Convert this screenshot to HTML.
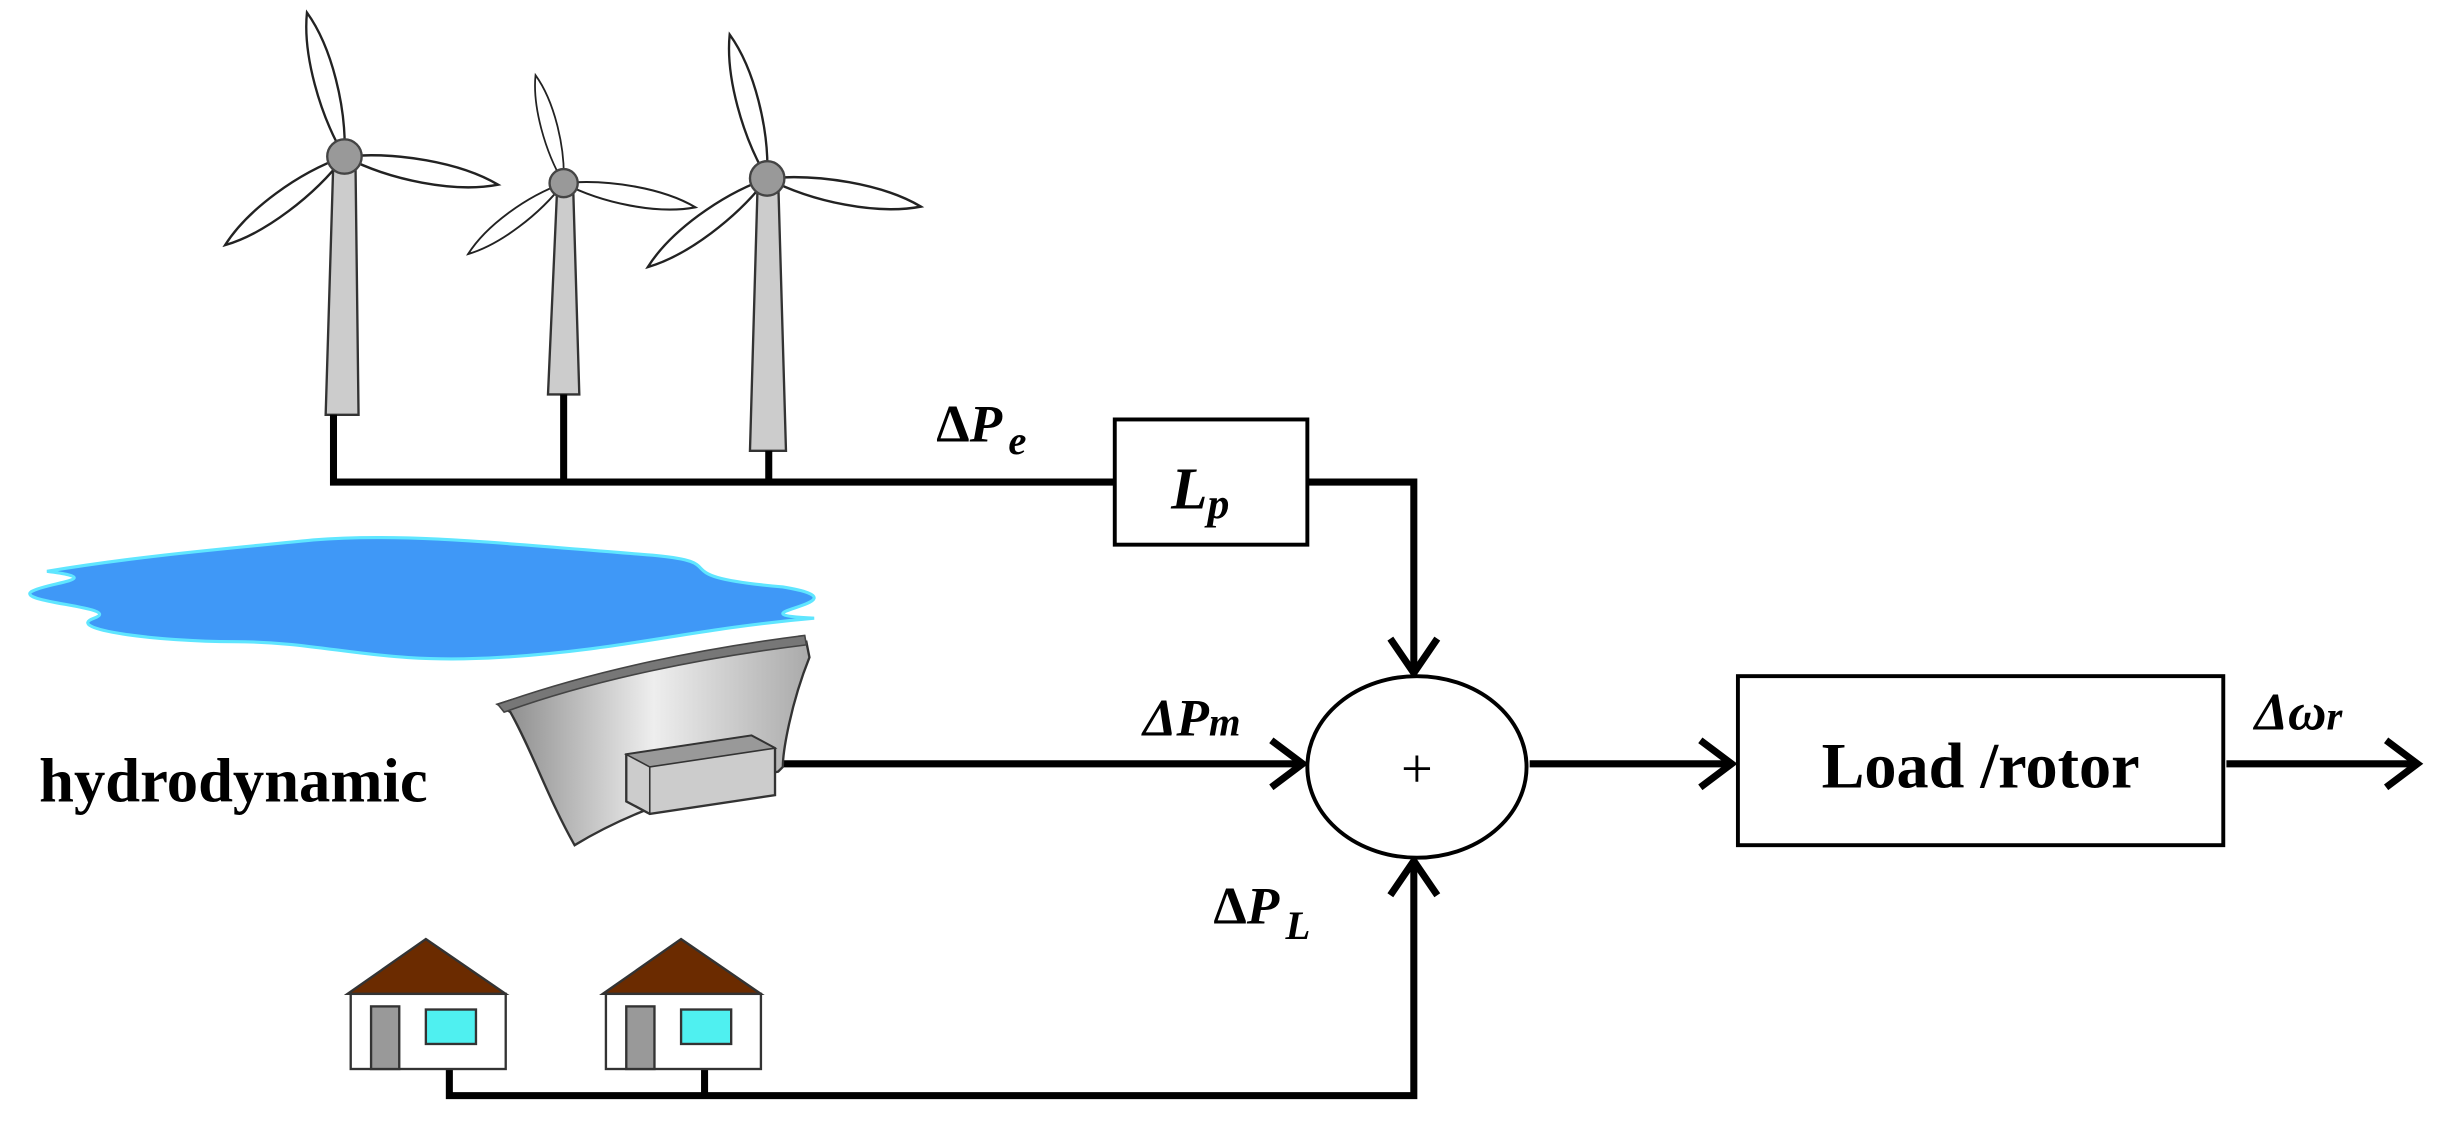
<!DOCTYPE html>
<html><head><meta charset="utf-8"><style>
html,body{margin:0;padding:0;background:#fff;}
svg{display:block}
</style></head><body>
<svg width="2455" height="1141" viewBox="0 0 1568 729" preserveAspectRatio="none" xmlns="http://www.w3.org/2000/svg">
<defs>
<g id="blade"><path d="M0,0 C-9,-30 -10,-70 -1,-95 C9,-70 9,-30 0,0 Z" fill="#fff" stroke="#222" stroke-width="1.5"/></g>
<linearGradient id="dam" x1="0" x2="1"><stop offset="0" stop-color="#888"/><stop offset="0.5" stop-color="#eee"/><stop offset="1" stop-color="#aaa"/></linearGradient>
</defs>
<g>
<polygon points="213,100 227,100 229,265 208,265" fill="#ccc" stroke="#333" stroke-width="1.5"/>
<g transform="translate(220,100)"><use href="#blade" transform="rotate(-14)"/><use href="#blade" transform="rotate(101) scale(1.05)"/><use href="#blade" transform="rotate(234)"/></g>
<circle cx="220" cy="100" r="11" fill="#999" stroke="#444" stroke-width="1.5"/>
<polygon points="356,117 366,117 370,252 350,252" fill="#ccc" stroke="#333" stroke-width="1.5"/>
<g transform="translate(360,117)"><use href="#blade" transform="rotate(-14) scale(0.75)"/><use href="#blade" transform="rotate(101) scale(0.9)"/><use href="#blade" transform="rotate(234) scale(0.8)"/></g>
<circle cx="360" cy="117" r="9" fill="#999" stroke="#444" stroke-width="1.5"/>
<polygon points="484,114 497,114 502,288 479,288" fill="#ccc" stroke="#333" stroke-width="1.5"/>
<g transform="translate(490,114)"><use href="#blade" transform="rotate(-14)"/><use href="#blade" transform="rotate(101) scale(1.05)"/><use href="#blade" transform="rotate(234)"/></g>
<circle cx="490" cy="114" r="11" fill="#999" stroke="#444" stroke-width="1.5"/>
</g>
<g fill="none" stroke="#000" stroke-width="4.5">
<polyline points="213,265 213,308 712,308"/>
<line x1="360" y1="252" x2="360" y2="308"/>
<line x1="491" y1="288" x2="491" y2="308"/>
<polyline points="835,308 903,308 903,430"/>
<polyline points="888,408 903,430 918,408"/>
<line x1="495" y1="488" x2="832" y2="488"/>
<polyline points="812,473 832,488 812,503"/>
<line x1="977" y1="488" x2="1106" y2="488"/>
<polyline points="1086,473 1106,488 1086,503"/>
<line x1="1422" y1="488" x2="1544" y2="488"/>
<polyline points="1524,473 1544,488 1524,503"/>
<polyline points="287,683 287,700 903,700 903,550"/>
<line x1="450" y1="683" x2="450" y2="700"/>
<polyline points="888,572 903,550 918,572"/>
</g>
<rect x="712" y="268" width="123" height="80" fill="#fff" stroke="#000" stroke-width="2.5"/>
<ellipse cx="905" cy="490" rx="70" ry="58" fill="#fff" stroke="#000" stroke-width="2.5"/>
<rect x="1110" y="432" width="310" height="108" fill="#fff" stroke="#000" stroke-width="2.5"/>
<g font-family="Liberation Serif, serif" font-weight="bold" fill="#000">
<text x="748" y="325" font-size="38" font-style="italic">L<tspan font-size="28" dy="6">p</tspan></text>
<text x="905" y="503" font-size="36" font-weight="normal" text-anchor="middle">+</text>
<text x="1265" y="503" font-size="41" text-anchor="middle">Load /rotor</text>
<text x="598" y="282" font-size="34">Δ<tspan font-style="italic">P</tspan><tspan font-style="italic" font-size="26" dx="4" dy="8">e</tspan></text>
<text x="730" y="470" font-size="34" font-style="italic">ΔP<tspan font-size="26">m</tspan></text>
<text x="775" y="590" font-size="34">Δ<tspan font-style="italic">P</tspan><tspan font-style="italic" font-size="26" dx="4" dy="10">L</tspan></text>
<text x="1440" y="466" font-size="34" font-style="italic">Δω<tspan font-size="26">r</tspan></text>
<text x="25" y="512" font-size="40">hydrodynamic</text>
</g>
<path d="M30,365 C90,355 150,350 200,345 C260,340 330,348 420,355 C470,360 420,368 500,375 C560,385 460,392 520,395 C440,402 400,415 320,420 C240,425 210,410 150,410 C100,410 40,402 60,395 C80,388 10,385 20,378 C30,372 70,370 30,365 Z" fill="#3f98f7" stroke="#5fe6ff" stroke-width="2"/>
<path d="M318,450 C380,430 450,418 515,410 L517,420 C505,450 500,480 500,490 L497,493 C440,505 400,520 367,540 C350,510 340,480 326,455 Z" fill="url(#dam)" stroke="#333" stroke-width="1.5"/>
<path d="M318,450 C380,428 450,414 514,406 L515,412 C450,420 380,434 322,455 Z" fill="#777" stroke="#444" stroke-width="1"/>
<polygon points="400,482 480,470 495,478 495,508 415,520 400,512" fill="#ccc" stroke="#333" stroke-width="1.5"/>
<polygon points="400,482 480,470 495,478 415,490" fill="#999" stroke="#333" stroke-width="1"/>
<line x1="415" y1="490" x2="415" y2="520" stroke="#333"/>
<g stroke="#333" stroke-width="1.5">
<polygon points="222,635 272,600 323,635" fill="#6b2b00"/>
<rect x="224" y="635" width="99" height="48" fill="#fff"/>
<rect x="237" y="643" width="18" height="40" fill="#999"/>
<rect x="272" y="645" width="32" height="22" fill="#4ff0f0"/>
<polygon points="385,635 435,600 486,635" fill="#6b2b00"/>
<rect x="387" y="635" width="99" height="48" fill="#fff"/>
<rect x="400" y="643" width="18" height="40" fill="#999"/>
<rect x="435" y="645" width="32" height="22" fill="#4ff0f0"/>
</g>
</svg>
</body></html>
